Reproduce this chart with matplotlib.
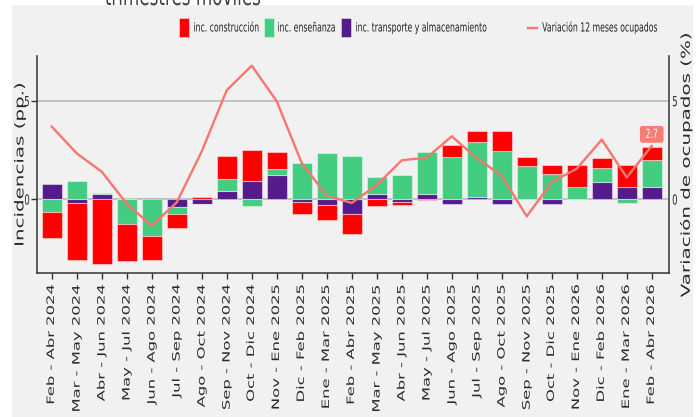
import matplotlib
matplotlib.use("Agg")
import matplotlib.pyplot as plt
import numpy as np
from matplotlib.patches import Rectangle
from matplotlib.lines import Line2D
from matplotlib.patheffects import AbstractPathEffect
from matplotlib.transforms import Affine2D


# %% datos
periodos = [
    "Feb - Abr 2024", "Mar - May 2024", "Abr - Jun 2024", "May - Jul 2024",
    "Jun - Ago 2024", "Jul - Sep 2024", "Ago - Oct 2024", "Sep - Nov 2024",
    "Oct - Dic 2024", "Nov - Ene 2025", "Dic - Feb 2025", "Ene - Mar 2025",
    "Feb - Abr 2025", "Mar - May 2025", "Abr - Jun 2025", "May - Jul 2025",
    "Jun - Ago 2025", "Jul - Sep 2025", "Ago - Oct 2025", "Sep - Nov 2025",
    "Oct - Dic 2025", "Nov - Ene 2026", "Dic - Feb 2026", "Ene - Mar 2026",
    "Feb - Abr 2026",
]
construccion = [-1.36, -2.93, -3.29, -1.86, -1.19, -0.71, 0.12, 1.17, 1.61, 0.86,
                -0.61, -0.80, -1.02, -0.34, -0.14, -0.07, 0.63, 0.59, 1.02, 0.46,
                0.44, 1.10, 0.49, 1.10, 0.64]
ensenanza = [-0.64, 0.90, 0.07, -1.29, -1.90, -0.36, -0.02, 0.64, -0.34, 0.31,
             1.81, 2.34, 2.19, 0.90, 1.24, 2.12, 2.12, 2.80, 2.46, 1.69,
             1.27, 0.61, 0.73, -0.19, 1.37]
transporte = [0.75, -0.19, 0.24, 0.0, 0.07, -0.39, -0.24, 0.39, 0.90, 1.20,
              -0.14, -0.29, -0.78, 0.24, -0.17, 0.27, -0.27, 0.08, -0.27, -0.02,
              -0.25, 0.0, 0.86, 0.63, 0.63]
ocupados = [3.68, 2.32, 1.39, -0.24, -1.36, -0.17, 2.42, 5.53, 6.78, 4.97,
            1.83, 0.17, -0.20, 0.71, 1.97, 2.10, 3.19, 2.08, 1.19, -0.88,
            0.86, 1.54, 3.02, 1.10, 2.7]

RED = "#ff0000"
GREEN = "#43cd80"
PURPLE = "#551a8b"
SALMON = "#f8766d"
BG = "#f1f1f1"
DARK = "#333333"
W, H = 699, 417


# the reference text looks squashed sideways, squeeze glyphs in x
class Squeeze(AbstractPathEffect):
    def __init__(self, sx=0.62, anchor="center"):
        super().__init__()
        self.sx = sx
        self.anchor = anchor

    def draw_path(self, renderer, gc, tpath, affine, rgbFace=None):
        ext = tpath.transformed(affine).get_extents()
        if self.anchor == "left":
            cx = ext.x0
        elif self.anchor == "right":
            cx = ext.x1
        else:
            cx = (ext.x0 + ext.x1) / 2
        aff = affine + Affine2D().translate(-cx, 0).scale(self.sx, 1).translate(cx, 0)
        renderer.draw_path(gc, tpath, aff, rgbFace)


def fx(px):
    return px / W


def fy(py):
    return 1 - py / H


# %% figura
fig = plt.figure(figsize=(W / 100, H / 100), dpi=100)
fig.patch.set_facecolor("white")
fig.patches.append(Rectangle((fx(12), 0), fx(693) - fx(12), fy(5),
                             transform=fig.transFigure, facecolor=BG,
                             edgecolor="none", zorder=-10))

ax = fig.add_axes([fx(37), fy(273), fx(669) - fx(37), fy(56) - fy(273)])
ax.set_facecolor(BG)

x = np.arange(len(periodos))
pos_base = np.zeros(len(x))
neg_base = np.zeros(len(x))
for vals, color in [(transporte, PURPLE), (ensenanza, GREEN), (construccion, RED)]:
    v = np.array(vals)
    base = np.where(v >= 0, pos_base, neg_base)
    ax.bar(x, v, 0.8, bottom=base, color=color, edgecolor=(1, 1, 1, 0.45),
           linewidth=0.8, zorder=3)
    pos_base += np.clip(v, 0, None)
    neg_base += np.clip(v, None, 0)

ax.set_xlim(-0.59, 24.69)
ax.set_ylim(-3.76, 7.27)
ax.set_yticks([0, 5])
ax.yaxis.grid(True, color="#b8b8b8", linewidth=1.2)
ax.set_axisbelow(True)
ax.set_xticks(x)
ax.set_xticklabels(periodos, rotation=90, fontsize=11.8, color="#2b2b2b")
ax.tick_params(axis="x", length=4, width=1, color=DARK, pad=4)
ax.tick_params(axis="y", length=4, width=1, color=DARK, pad=1,
               labelsize=10, labelcolor="#2b2b2b")
for s in ["top", "right"]:
    ax.spines[s].set_visible(False)
for s in ["left", "bottom"]:
    ax.spines[s].set_color(DARK)
    ax.spines[s].set_linewidth(1.1)

ax.set_ylabel("Incidencias (pp.)", fontsize=14.3, color="#2b2b2b")
ax.yaxis.label.set_va("center")
ax.yaxis.set_label_coords((20 - 37) / 632, 0.5)

# eje derecho con la variacion de ocupados
ax2 = ax.twinx()
ax2.set_ylim(ax.get_ylim())
ax2.plot(x, ocupados, color=SALMON, linewidth=1.7, zorder=5)
ax2.annotate(f"{ocupados[-1]:.1f}", xy=(x[-1], ocupados[-1]), xytext=(0, 8.3),
             textcoords="offset points", ha="center", va="center",
             fontsize=9, color="white",
             bbox=dict(boxstyle="round,pad=0.15,rounding_size=0.2",
                       facecolor=SALMON, edgecolor="none", alpha=0.95),
             path_effects=[Squeeze()])
ax2.set_yticks([0, 5])
ax2.tick_params(axis="y", length=0, pad=2, labelsize=10, labelcolor="#2b2b2b")
for s in ["top", "left", "bottom"]:
    ax2.spines[s].set_visible(False)
ax2.spines["right"].set_color(DARK)
ax2.spines["right"].set_linewidth(1.1)
ax2.set_ylabel("Variación de ocupados (%)", fontsize=14.3, color="#2b2b2b",
               rotation=90)
ax2.yaxis.label.set_va("center")
ax2.yaxis.set_label_coords((686 - 37) / 632, 0.5)

for lab in ax.get_xticklabels():
    lab.set_path_effects([Squeeze()])
for lab in ax.get_yticklabels():
    lab.set_path_effects([Squeeze(anchor="right")])
for lab in ax2.get_yticklabels():
    lab.set_path_effects([Squeeze(anchor="left")])
ax.yaxis.label.set_path_effects([Squeeze()])
ax2.yaxis.label.set_path_effects([Squeeze()])

# titulo (cortado arriba, como en la imagen)
fig.text(fx(183.5), fy(5), "trimestres móviles", fontsize=19.5, color="#444444",
         ha="center", va="baseline", path_effects=[Squeeze()])

# leyenda
for x0, color in [(179, RED), (264, GREEN), (341, PURPLE)]:
    fig.patches.append(Rectangle((fx(x0), fy(37)), fx(10), fy(18) - fy(37),
                                 transform=fig.transFigure, facecolor=color,
                                 edgecolor=(1, 1, 1, 0.5), linewidth=0.6))
fig.lines.append(Line2D([fx(528), fx(537)], [fy(28), fy(28)], color=SALMON,
                        linewidth=1.7, transform=fig.transFigure))
for x0, txt in [(193, "inc. construcción"), (277, "inc. enseñanza"),
                (355, "inc. transporte y almacenamiento")]:
    fig.text(fx(x0), fy(28), txt, fontsize=9, color="#222222", ha="left",
             va="center", path_effects=[Squeeze(anchor="left")])
fig.text(fx(658), fy(28), "Variación 12 meses ocupados", fontsize=9,
         color="#222222", ha="right", va="center",
         path_effects=[Squeeze(anchor="right")])

plt.savefig("out.png", dpi=100, facecolor=fig.get_facecolor())
